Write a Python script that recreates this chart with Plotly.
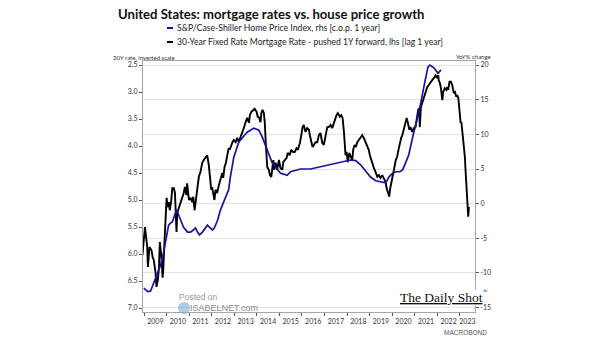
import numpy as np
import pandas as pd
import plotly.graph_objects as go

# ---------------- data (decimal years) ----------------
hpi_t = [2008.99, 2009.16, 2009.29, 2009.51, 2009.73, 2009.86, 2009.95, 2010.04, 2010.09, 2010.17,
         2010.26, 2010.31, 2010.40, 2010.44, 2010.53, 2010.62, 2010.75, 2010.93, 2011.06, 2011.19,
         2011.28, 2011.37, 2011.46, 2011.59, 2011.73, 2011.81, 2011.90, 2012.04, 2012.12, 2012.26,
         2012.39, 2012.57, 2012.75, 2012.83, 2012.98, 2013.20, 2013.57, 2013.87, 2014.09, 2014.24,
         2014.46, 2014.68, 2015.05, 2015.35, 2015.49, 2015.94, 2016.38, 2016.82, 2017.27, 2017.71,
         2018.15, 2018.38, 2018.60, 2018.82, 2019.05, 2019.27, 2019.49, 2019.71, 2019.85, 2019.98,
         2020.16, 2020.34, 2020.47, 2020.59, 2020.73, 2020.95, 2021.18, 2021.40, 2021.58, 2021.67,
         2021.85, 2022.03, 2022.16]
hpi_yoy = [-12.2, -12.7, -12.6, -10.7, -8.9, -7.1, -5.7, -4.2, -3.1, -2.8,
           -2.6, -2.1, -1.4, -0.9, -1.6, -2.4, -3.4, -4.1, -4.1, -3.8,
           -3.5, -4.1, -4.5, -4.1, -3.5, -3.1, -3.4, -3.8, -3.5, -2.4,
           -0.9, 0.5, 2.0, 3.9, 6.7, 8.9, 10.3, 10.9, 10.6, 9.6,
           7.7, 5.9, 4.4, 4.1, 4.6, 5.0, 5.0, 5.3, 5.6, 5.9,
           6.3, 6.2, 5.6, 4.7, 3.8, 3.3, 3.1, 3.0, 3.8, 4.3,
           4.6, 4.6, 4.9, 5.9, 7.0, 10.2, 13.1, 16.8, 19.7, 20.0,
           19.6, 18.8, 19.3]

mort_t = [2008.93, 2009.04, 2009.14, 2009.17, 2009.24, 2009.33, 2009.38, 2009.43, 2009.51, 2009.55,
          2009.61, 2009.66, 2009.70, 2009.78, 2009.82, 2009.85, 2009.91, 2009.97, 2010.00, 2010.05,
          2010.10, 2010.14, 2010.21, 2010.25, 2010.32, 2010.37, 2010.41, 2010.44, 2010.47, 2010.54,
          2010.62, 2010.69, 2010.76, 2010.81, 2010.88, 2010.91, 2010.99, 2011.06, 2011.14, 2011.18,
          2011.24, 2011.28, 2011.36, 2011.43, 2011.50, 2011.58, 2011.65, 2011.73, 2011.80, 2011.87,
          2011.92, 2011.98, 2012.02, 2012.07, 2012.12, 2012.17, 2012.24, 2012.32, 2012.39, 2012.47,
          2012.51, 2012.57, 2012.63, 2012.69, 2012.75, 2012.80, 2012.87, 2012.92, 2012.98, 2013.06,
          2013.13, 2013.20, 2013.28, 2013.35, 2013.42, 2013.50, 2013.57, 2013.65, 2013.69, 2013.75,
          2013.84, 2013.90, 2013.99, 2014.04, 2014.11, 2014.16, 2014.20, 2014.25, 2014.31, 2014.35,
          2014.40, 2014.46, 2014.53, 2014.58, 2014.64, 2014.68, 2014.73, 2014.77, 2014.83, 2014.90,
          2014.98, 2015.05, 2015.13, 2015.17, 2015.23, 2015.32, 2015.37, 2015.46, 2015.52, 2015.61,
          2015.68, 2015.76, 2015.82, 2015.91, 2015.97, 2016.03, 2016.08, 2016.16, 2016.23, 2016.31,
          2016.35, 2016.41, 2016.47, 2016.53, 2016.60, 2016.68, 2016.75, 2016.82, 2016.90, 2016.97,
          2017.05, 2017.12, 2017.19, 2017.27, 2017.34, 2017.41, 2017.49, 2017.53, 2017.59, 2017.68,
          2017.74, 2017.80, 2017.86, 2017.89, 2017.93, 2017.98, 2018.03, 2018.10, 2018.15, 2018.23,
          2018.27, 2018.33, 2018.39, 2018.45, 2018.52, 2018.60, 2018.67, 2018.74, 2018.82, 2018.89,
          2018.96, 2019.01, 2019.07, 2019.12, 2019.19, 2019.26, 2019.34, 2019.41, 2019.48, 2019.56,
          2019.63, 2019.71, 2019.75, 2019.81, 2019.87, 2019.90, 2019.96, 2020.02, 2020.10, 2020.16,
          2020.22, 2020.28, 2020.34, 2020.40, 2020.45, 2020.52, 2020.59, 2020.64, 2020.69, 2020.76,
          2020.81, 2020.89, 2020.96, 2021.03, 2021.06, 2021.11, 2021.15, 2021.20, 2021.22, 2021.27,
          2021.33, 2021.40, 2021.48, 2021.55, 2021.62, 2021.70, 2021.77, 2021.85, 2021.92, 2021.99,
          2022.04, 2022.06, 2022.11, 2022.16, 2022.22, 2022.26, 2022.33, 2022.40, 2022.44, 2022.48,
          2022.54, 2022.60, 2022.66, 2022.73, 2022.78, 2022.84, 2022.88, 2022.93, 2022.99, 2023.03,
          2023.07, 2023.13, 2023.18, 2023.22, 2023.25, 2023.28, 2023.33, 2023.37, 2023.40]
mort_rate = [6.02, 5.50, 5.87, 6.24, 5.87, 5.93, 6.06, 6.11, 6.35, 6.61,
             6.48, 6.26, 5.78, 6.11, 6.44, 6.30, 5.74, 5.19, 4.96, 5.13,
             5.04, 5.19, 5.00, 4.78, 4.78, 4.87, 5.19, 5.59, 5.24, 5.15,
             5.06, 5.00, 4.87, 4.76, 4.91, 4.69, 5.00, 4.96, 5.04, 4.94,
             5.19, 5.06, 4.81, 4.57, 4.48, 4.31, 4.26, 4.20, 4.17, 4.35,
             4.57, 4.81, 4.76, 4.87, 5.00, 4.81, 4.87, 4.72, 4.59, 4.50,
             4.59, 4.39, 4.31, 4.17, 4.04, 4.07, 3.98, 3.93, 3.89, 3.93,
             3.85, 3.93, 3.83, 3.76, 3.67, 3.56, 3.48, 3.57, 3.43, 3.37,
             3.33, 3.31, 3.37, 3.46, 3.48, 3.56, 3.39, 3.33, 3.39, 3.56,
             3.98, 4.39, 4.44, 4.54, 4.57, 4.39, 4.26, 4.44, 4.31, 4.44,
             4.26, 4.41, 4.44, 4.30, 4.26, 4.22, 4.13, 4.17, 4.07, 4.11,
             4.11, 4.04, 4.07, 3.94, 3.80, 3.65, 3.61, 3.74, 3.67, 3.70,
             3.80, 3.93, 4.02, 3.98, 3.93, 3.93, 3.80, 3.76, 3.94, 3.98,
             3.80, 3.65, 3.65, 3.61, 3.67, 3.57, 3.46, 3.43, 3.39, 3.46,
             3.43, 3.48, 3.74, 3.94, 4.17, 4.11, 4.30, 4.13, 4.17, 4.26,
             4.07, 3.98, 4.02, 3.93, 3.89, 3.83, 3.80, 3.85, 3.93, 3.98,
             4.07, 4.17, 4.26, 4.35, 4.41, 4.48, 4.57, 4.54, 4.59, 4.54,
             4.59, 4.67, 4.78, 4.87, 4.94, 4.81, 4.67, 4.50, 4.39, 4.26,
             4.20, 4.07, 3.94, 3.85, 3.80, 3.70, 3.57, 3.48, 3.56, 3.70,
             3.65, 3.74, 3.67, 3.65, 3.57, 3.46, 3.33, 3.30, 3.65, 3.28,
             3.19, 3.09, 3.00, 2.91, 2.87, 2.81, 2.78, 2.74, 2.69, 2.74,
             2.69, 2.78, 2.83, 2.93, 3.15, 3.00, 2.93, 2.96, 2.91, 2.96,
             2.81, 2.81, 2.87, 3.02, 3.00, 3.09, 3.06, 3.11, 3.33, 3.56,
             3.57, 3.80, 3.93, 4.20, 4.44, 4.72, 4.96, 5.31, 5.13]

years = list(range(2009, 2024))
left_ticks = [2.5, 3.0, 3.5, 4.0, 4.5, 5.0, 5.5, 6.0, 6.5, 7.0]
right_ticks = [20, 15, 10, 5, 0, -5, -10, -15]

title_text = "United States: mortgage rates vs. house price growth"
name_hpi = "S&P/Case-Shiller Home Price Index, rhs [c.o.p. 1 year]"
name_mort = "30-Year Fixed Rate Mortgage Rate - pushed 1Y forward, lhs [lag 1 year]"


def to_date(t):
    y = int(np.floor(t))
    return pd.Timestamp(y, 1, 1) + pd.Timedelta(days=(t - y) * 365.25)


x_start, x_end = 2008.955, 2023.67
year_mid = [y + 0.5 if y < 2023 else (2023 + x_end) / 2 for y in years]

FONT = "Lato"
BLUE = "#1414a0"

fig = go.Figure()
fig.add_trace(go.Scatter(x=[to_date(t) for t in hpi_t], y=hpi_yoy, yaxis="y2", mode="lines",
                         line=dict(color=BLUE, width=1.7), name=name_hpi, showlegend=False))
fig.add_trace(go.Scatter(x=[to_date(t) for t in mort_t], y=mort_rate, yaxis="y", mode="lines",
                         line=dict(color="black", width=1.9), name=name_mort, showlegend=False))

PL, PR, PT, PB = 143, 475, 61, 312


def px(x):
    return (x - PL) / (PR - PL)


def py(y):
    return (PB - y) / (PB - PT)


axis_line = "#a6a6a6"
tick_font = dict(family=FONT, size=7, color="#333333")

fig.update_layout(
    width=605, height=341,
    margin=dict(l=PL, r=605 - PR, t=PT, b=341 - PB),
    paper_bgcolor="white", plot_bgcolor="white",
    font=dict(family=FONT, color="#222222"),
    xaxis=dict(type="date", range=[to_date(x_start), to_date(x_end)],
               tickmode="array", tickvals=[to_date(m) for m in year_mid],
               ticktext=[str(y) for y in years], ticks="", tickfont=tick_font,
               ticklabelstandoff=3,
               showgrid=False, showline=True, linecolor=axis_line, linewidth=1, mirror=True,
               minor=dict(tickmode="array", tickvals=[to_date(y) for y in years],
                          ticks="outside", ticklen=3, tickcolor="#555555", showgrid=False),
               zeroline=False),
    yaxis=dict(range=[7.074, 2.426], tickmode="array", tickvals=left_ticks,
               ticktext=[f"{v:.1f}" for v in left_ticks], ticks="outside", ticklen=3,
               tickcolor="#555555", tickfont=tick_font, showgrid=False, zeroline=False,
               showline=True, linecolor=axis_line, linewidth=1),
    yaxis2=dict(range=[-15.63, 20.58], overlaying="y", side="right", tickmode="array",
                tickvals=right_ticks, ticktext=[str(v) for v in right_ticks], ticks="outside",
                ticklen=3, tickcolor="#555555", tickfont=tick_font, showgrid=True,
                gridcolor="#e3e3e3", gridwidth=1, zeroline=False, showline=True,
                linecolor=axis_line, linewidth=1),
    showlegend=False,
)

ann = []
ann.append(dict(text="<b>" + title_text + "</b>", x=px(116), y=py(14), xanchor="left", yanchor="middle",
                font=dict(family=FONT, size=13.1, color="#111111")))
ann.append(dict(text=name_hpi, x=px(175), y=py(28), xanchor="left", yanchor="middle",
                font=dict(family=FONT, size=8.7, color="#222222")))
ann.append(dict(text=name_mort, x=px(175), y=py(42), xanchor="left", yanchor="middle",
                font=dict(family=FONT, size=8.6, color="#222222")))
ann.append(dict(text="30Y rate, inverted scale", x=px(111), y=py(57), xanchor="left", yanchor="middle",
                font=dict(family=FONT, size=6.0, color="#333333")))
ann.append(dict(text="YoY% change", x=px(493), y=py(56), xanchor="right", yanchor="middle",
                font=dict(family=FONT, size=6.0, color="#333333")))
# watermarks
ann.append(dict(text="Posted on", x=px(198), y=py(297), xanchor="center", yanchor="middle",
                font=dict(family="Liberation Sans", size=8.5, color="#9a9a9a")))
ann.append(dict(text="ISABELNET.com", x=px(224), y=py(308), xanchor="center", yanchor="middle",
                font=dict(family="Liberation Sans", size=9, color="#8a8a8a")))
ann.append(dict(text="<u>The Daily Shot</u>", x=px(441), y=py(297), xanchor="center",
                yanchor="middle", bgcolor="white", borderpad=0,
                font=dict(family="Liberation Serif", size=13.5, color="#111111")))
ann.append(dict(text="®", x=px(485), y=py(291), xanchor="center", yanchor="middle",
                font=dict(family="Liberation Serif", size=6, color="#111111")))
ann.append(dict(text="MACROBOND", x=px(465), y=py(332), xanchor="center", yanchor="middle",
                font=dict(family="Liberation Sans", size=6.5, color="#555555")))
for a in ann:
    a.update(xref="paper", yref="paper", showarrow=False)
fig.update_layout(annotations=ann)

shapes = [
    dict(type="line", xref="paper", yref="paper", x0=px(167), x1=px(173), y0=py(28), y1=py(28),
         line=dict(color=BLUE, width=2)),
    dict(type="line", xref="paper", yref="paper", x0=px(167), x1=px(173), y0=py(42), y1=py(42),
         line=dict(color="black", width=2)),
    dict(type="circle", xref="paper", yref="paper", x0=px(178), x1=px(190), y0=py(302), y1=py(314),
         line=dict(width=0), fillcolor="rgba(120,170,210,0.6)"),
    dict(type="rect", xref="paper", yref="paper", x0=px(477), x1=px(480), y0=py(302), y1=py(305),
         line=dict(width=0), fillcolor="#d01010"),
]
fig.update_layout(shapes=shapes)

fig.write_html("out.html")
